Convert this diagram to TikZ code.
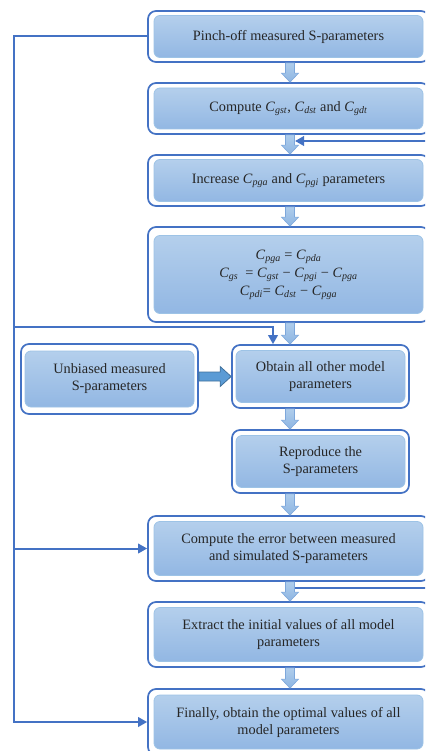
\documentclass[tikz,border=0pt]{standalone}
\usepackage{fontspec}
\setmainfont{Liberation Serif}
\usetikzlibrary{arrows.meta,calc}
\definecolor{bord}{HTML}{4472C4}
\definecolor{inbord}{HTML}{9DC3E6}
\definecolor{topc}{HTML}{B4CFEC}
\definecolor{botc}{HTML}{92B7E3}
\definecolor{txt}{HTML}{262626}
\definecolor{arrfill}{HTML}{AFCDEC}
\definecolor{arrfill2}{HTML}{8DB5E2}
\definecolor{arrbord}{HTML}{7DA7DB}
\definecolor{bigfill}{HTML}{5B9BD5}
\definecolor{bigbord}{HTML}{41719C}
\newcommand{\Cc}[1]{\textit{C}\textsubscript{\textit{#1}}}
\newcommand{\mkbox}[8]{%
  \node[outerbox,minimum width=#4pt,minimum height=#5pt] (#1o) at (#2,#3) {};
  \node[innerbox,minimum width=#6pt,minimum height=#7pt] (#1) at (#2,#3) {#8};}
% #1: node giving the column, #2: from, #3: to
\newcommand{\flowarrow}[3]{%
  \path[draw=arrbord,line width=0.6pt,top color=arrfill,bottom color=arrfill2]
    let \p0=(#1.center), \p1=(#2.south), \p2=(#3.north), \n1={\x0+1.5pt} in
    (\n1-4.5pt,\y1) -- (\n1-4.5pt,\y2+9pt) -- (\n1-8.5pt,\y2+9pt) -- (\n1,\y2)
    -- (\n1+8.5pt,\y2+9pt) -- (\n1+4.5pt,\y2+9pt) -- (\n1+4.5pt,\y1) -- cycle;}
\begin{document}
\begin{tikzpicture}[x=1pt,y=-1pt,
  outerbox/.style={draw=bord,line width=1.7pt,rounded corners=8pt,fill=white,inner sep=0pt},
  innerbox/.style={draw=inbord,line width=0.8pt,rounded corners=6pt,top color=topc,bottom color=botc,
    inner sep=0pt,align=center,text=txt,font=\fontsize{14.3}{17}\selectfont},
  link/.style={draw=bord,line width=2pt},
  linkarrow/.style={link,-{Triangle[length=9pt,width=9.5pt]}},
]
\useasboundingbox (0,0) rectangle (425,751);
\clip (0,0) rectangle (425,751);
\fill[white] (0,0) rectangle (425,751);

\mkbox{ba}{288.5}{36.5}{281}{51}{269}{42}{Pinch-off measured S-parameters}
\mkbox{bb}{288.5}{108.5}{281}{51}{269}{41}{Compute \Cc{gst}, \Cc{dst} and \Cc{gdt}}
\mkbox{bc}{288.5}{180.5}{281}{51}{269}{42}{Increase \Cc{pga} and \Cc{pgi} parameters}
\mkbox{bd}{288.5}{274.5}{281}{95}{269}{78}{\Cc{pga} = \Cc{pda}\\[1pt]
  \Cc{gs}\ \ = \Cc{gst} − \Cc{pgi} − \Cc{pga}\\[1pt]
  \Cc{pdi}= \Cc{dst} − \Cc{pga}}
\mkbox{be}{320.5}{376.5}{177}{63}{169}{52}{Obtain all other model\\parameters}
\mkbox{bu}{109.5}{379}{177}{70}{169}{56}{Unbiased measured\\S-parameters}
\mkbox{bf}{320.5}{461.5}{177}{63}{169}{52}{Reproduce the\\S-parameters}
\mkbox{bg}{288.5}{548.5}{281}{65}{269}{54}{Compute the error between measured\\and simulated S-parameters}
\mkbox{bh}{288.5}{634.5}{281}{65}{269}{54}{Extract the initial values of all model\\parameters}
\mkbox{bi}{288.5}{722}{281}{66}{269}{54}{Finally, obtain the optimal values of all\\model parameters}

\flowarrow{bao}{bao}{bbo}
\flowarrow{bao}{bbo}{bco}
\flowarrow{bao}{bco}{bdo}
\flowarrow{bao}{bdo}{beo}
\flowarrow{bao}{beo}{bfo}
\flowarrow{bao}{bfo}{bgo}
\flowarrow{bao}{bgo}{bho}
\flowarrow{bao}{bho}{bio}

% thick arrow from unbiased box
\path[draw=bigbord,fill=bigfill,line width=0.8pt]
  let \p1=(buo.east), \p2=(beo.west) in
  (\x1,\y2+4.5pt) -- (\x2-11pt,\y2+4.5pt) -- (\x2-11pt,\y2+10pt) -- (\x2,\y2)
  -- (\x2-11pt,\y2-10pt) -- (\x2-11pt,\y2-4.5pt) -- (\x1,\y2-4.5pt) -- cycle;

% left loop
\coordinate (lt) at (14,36.5);
\coordinate (jl) at (14,327);
\coordinate (jr) at (273,327);
\draw[linkarrow] (bao.west) -- (lt) |- (bio.west);
\draw[linkarrow] (jl) -- (jr) -- (jr |- beo.north);
\draw[linkarrow] (lt |- bgo.west) -- (bgo.west);

% right feedback loop
\coordinate (fa) at (295,588);
\coordinate (fb) at (440,588);
\coordinate (fc) at (440,141);
\coordinate (fd) at (295,141);
\draw[linkarrow] (fa) -- (fb) -- (fc) -- (fd);
\end{tikzpicture}
\end{document}
